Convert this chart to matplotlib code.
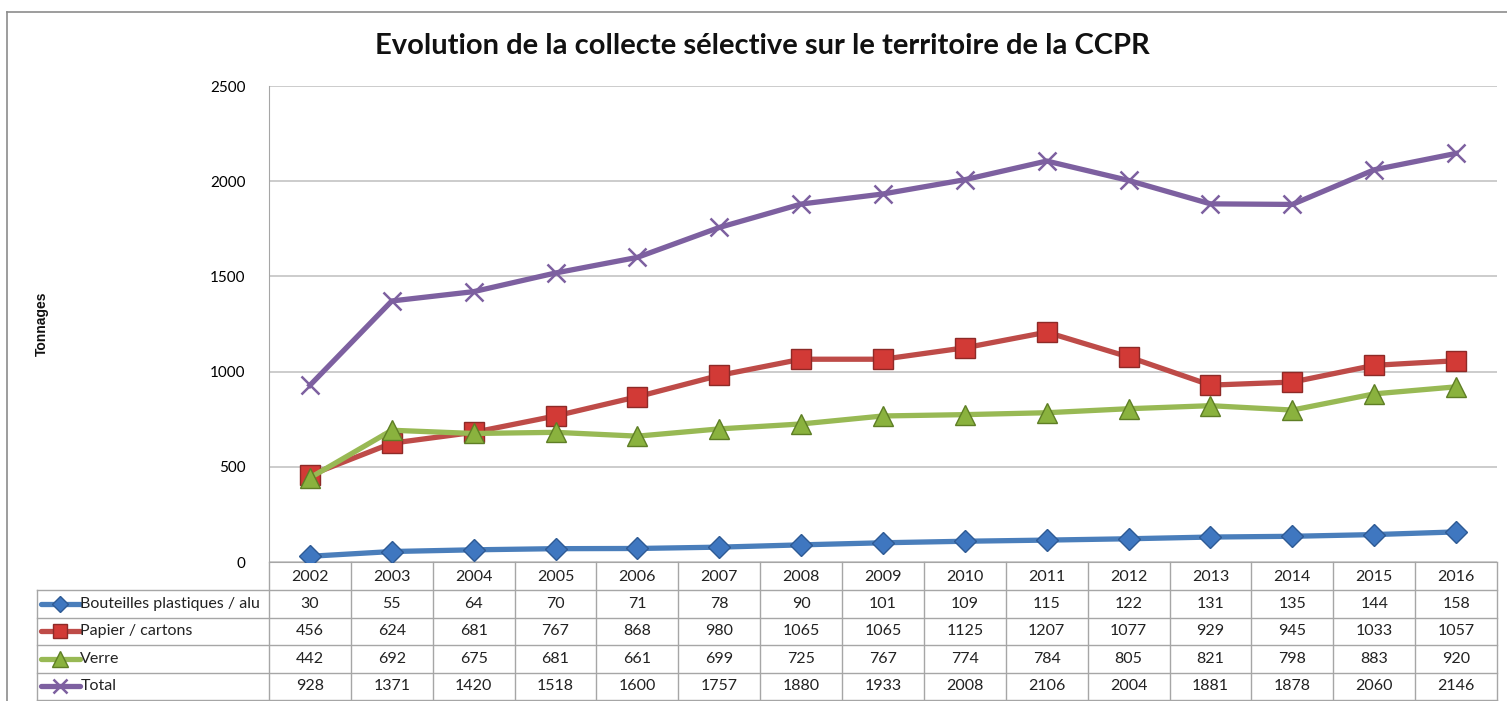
import matplotlib
matplotlib.use("Agg")
import matplotlib.pyplot as plt
from matplotlib.lines import Line2D
import matplotlib.transforms as mtransforms

years = [2002, 2003, 2004, 2005, 2006, 2007, 2008, 2009, 2010, 2011, 2012, 2013, 2014, 2015, 2016]
bouteilles = [30, 55, 64, 70, 71, 78, 90, 101, 109, 115, 122, 131, 135, 144, 158]
papier = [456, 624, 681, 767, 868, 980, 1065, 1065, 1125, 1207, 1077, 929, 945, 1033, 1057]
verre = [442, 692, 675, 681, 661, 699, 725, 767, 774, 784, 805, 821, 798, 883, 920]
total = [928, 1371, 1420, 1518, 1600, 1757, 1880, 1933, 2008, 2106, 2004, 1881, 1878, 2060, 2146]
series_names = ["Bouteilles plastiques / alu", "Papier / cartons", "Verre", "Total"]
title = "Evolution de la collecte sélective sur le territoire de la CCPR"
ylabel = "Tonnages"
yticks = [0, 500, 1000, 1500, 2000, 2500]

W, H = 1507, 701
fig = plt.figure(figsize=(W / 100, H / 100), dpi=100)
font = "Lato"
tsize = 11.5

def fx(px):
    return px / W

def fy(py):
    return 1 - py / H

left_px, right_px, top_px, bot_px = 269, 1497, 86, 562
ax = fig.add_axes([fx(left_px), fy(bot_px), fx(right_px - left_px), (bot_px - top_px) / H])

styles = [
    dict(color="#4A7EBB", marker="D", ms=11, mfc="#3F77C0", mec="#2E5A94"),
    dict(color="#BE4B48", marker="s", ms=14, mfc="#D23A36", mec="#8E2A27"),
    dict(color="#98B954", marker="^", ms=15, mfc="#8AB23E", mec="#5E7E25"),
    dict(color="#7D60A0", marker="x", ms=13, mfc="#7D60A0", mec="#7D60A0", mew=1.8),
]
data = [bouteilles, papier, verre, total]
x = list(range(len(years)))
for vals, st in zip(data, styles):
    kw = dict(st)
    mew = kw.pop("mew", 1.0)
    ax.plot(x, vals, lw=3.8, mew=mew, zorder=3, solid_joinstyle="round", **kw)

ax.set_xlim(-0.5, len(years) - 0.5)
ax.set_ylim(0, 2500)
ax.set_yticks(yticks)
ax.set_yticklabels([str(v) for v in yticks], fontfamily=font, fontsize=11)
ax.tick_params(axis="y", length=0, pad=17)
ax.set_xticks([])
ax.yaxis.grid(True, color="#BFBFBF", lw=1.1)
ax.set_axisbelow(True)
for s in ["top", "right"]:
    ax.spines[s].set_visible(False)
ax.spines["left"].set_color("#A6A6A6")
ax.spines["bottom"].set_color("#A6A6A6")

# Table below axes
trans = mtransforms.blended_transform_factory(ax.transData, ax.transAxes)
ph = bot_px - top_px
def ay(py):
    return (bot_px - py) / ph

line_kw = dict(color="#A6A6A6", lw=1.0, transform=trans, clip_on=False)
col_edges = [i - 0.5 for i in range(len(years) + 1)]
leg_left = -0.5 - (left_px - 37) / ((right_px - left_px) / len(years))
row_tops = [562, 590, 617.5, 645, 672.5, 700]

for ce in col_edges:
    ax.add_line(Line2D([ce, ce], [ay(562), ay(700)], **line_kw))
ax.add_line(Line2D([leg_left, leg_left], [ay(590), ay(700)], **line_kw))
for rt in row_tops[1:]:
    ax.add_line(Line2D([leg_left, col_edges[-1]], [ay(rt), ay(rt)], **line_kw))

for i, yr in enumerate(years):
    ax.text(i, ay(577), str(yr), transform=trans, ha="center", va="center",
            fontfamily=font, fontsize=tsize, color="#222222")
for r, (name, vals, st) in enumerate(zip(series_names, data, styles)):
    yc = ay((row_tops[r + 1] + row_tops[r + 2]) / 2)
    for i, v in enumerate(vals):
        ax.text(i, yc, str(v), transform=trans, ha="center", va="center",
                fontfamily=font, fontsize=tsize, color="#222222")
    kw = dict(st)
    mew = kw.pop("mew", 1.0)
    ms = kw.pop("ms") * 0.75
    kx0 = leg_left + 0.05
    kx1 = leg_left + 0.52
    ax.add_line(Line2D([kx0, kx1], [yc, yc], lw=3.8, transform=trans, clip_on=False,
                       color=kw.pop("color"), solid_capstyle="round"))
    ax.add_line(Line2D([(kx0 + kx1) / 2], [yc], transform=trans, clip_on=False,
                       ls="none", ms=ms, mew=mew, **kw))
    ax.text(kx1 + 0.01, yc, name, transform=trans, ha="left", va="center",
            fontfamily=font, fontsize=tsize, color="#222222")

fig.text(fx(762), fy(46), title, ha="center", va="center", fontfamily=font,
         fontweight="bold", fontsize=21, color="#111111")
fig.text(fx(42), fy(324), ylabel, ha="center", va="center", rotation=90,
         fontfamily="Liberation Sans", fontweight="bold", fontsize=10, color="#111111")

fig.add_artist(Line2D([fx(7), fx(7)], [fy(12), fy(701)], color="#8C8C8C", lw=1.2,
                      transform=fig.transFigure))
fig.add_artist(Line2D([fx(7), fx(1507)], [fy(12), fy(12)], color="#8C8C8C", lw=1.2,
                      transform=fig.transFigure))

fig.savefig("out.png", dpi=100)
